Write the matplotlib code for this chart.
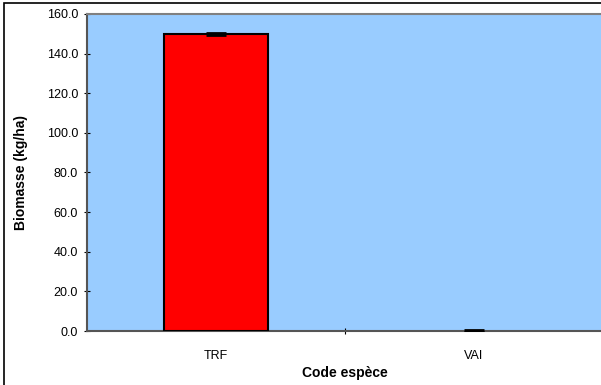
import matplotlib
matplotlib.use("Agg")
import matplotlib.pyplot as plt
from matplotlib.patches import Rectangle

categories = ["TRF", "VAI"]
values = [150.0, 0.0]
errors = [0.4, 0.3]
yticks = [0, 20, 40, 60, 80, 100, 120, 140, 160]

plt.rcParams['font.family'] = ['Liberation Sans', 'DejaVu Sans']

fig = plt.figure(figsize=(6.01, 3.85), dpi=100)
fig.patches.append(Rectangle((4/601, -0.1), 1.2, 1 - 3/385 + 0.1, transform=fig.transFigure,
                             fill=False, edgecolor='black', linewidth=1.2))
ax = fig.add_axes([87/601, 1 - 331/385, (603 - 87)/601, (331 - 14)/385])
ax.set_facecolor('#99CCFF')

x = list(range(len(categories)))
lws = [1.5 if v > 0 else 0 for v in values]
ax.bar(x, values, width=0.4, color='#FF0000', edgecolor='black', linewidth=lws, zorder=3)
ax.errorbar(x, values, yerr=errors, fmt='none', ecolor='black', capsize=7,
            elinewidth=1, capthick=2, zorder=4)

ax.set_xlim(-0.5, 1.5)
ax.set_ylim(0, 160)
ax.set_yticks(yticks)
ax.set_yticklabels([f"{v:.1f}" for v in yticks], fontsize=9)
ax.set_xticks([0.5])
ax.set_xticklabels([""])
ax.set_xticks(x, minor=True)
ax.set_xticklabels(categories, minor=True, fontsize=9)
ax.tick_params(axis='x', which='minor', length=0, pad=14)
ax.tick_params(axis='x', which='major', length=5, direction='inout')
ax.tick_params(axis='y', length=5, direction='inout', pad=4)

for s in ['left', 'bottom']:
    ax.spines[s].set_color('#555555')
    ax.spines[s].set_linewidth(1.5)
ax.spines['top'].set_color('#808080')
ax.spines['top'].set_linewidth(1.5)
ax.spines['right'].set_visible(False)

ax.set_ylabel("Biomasse (kg/ha)", fontsize=10, fontweight='bold')
ax.yaxis.set_label_coords(-(87 - 21) / (603 - 87), 0.5)
ax.set_xlabel("Code espèce", fontsize=10, fontweight='bold')
ax.xaxis.set_label_coords(0.5, -(373 - 331) / (331 - 14))
ax.xaxis.label.set_verticalalignment('center')
ax.yaxis.label.set_verticalalignment('center')

fig.savefig("out.png", dpi=100)
